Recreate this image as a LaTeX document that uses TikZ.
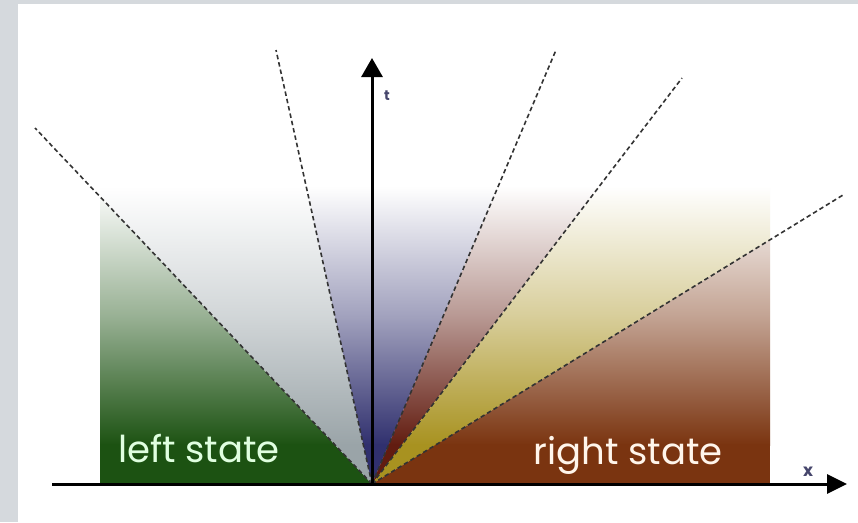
\documentclass[tikz,border=0pt]{standalone}
\usepackage{fontspec}
\setmainfont{Poppins}
\usetikzlibrary{arrows.meta}
\definecolor{framegray}{HTML}{D5D9DD}
\definecolor{cgreen}{HTML}{1C5212}
\definecolor{cgray}{HTML}{9AA4A8}
\definecolor{cblue}{HTML}{30306E}
\definecolor{cred}{HTML}{621C10}
\definecolor{cyellow}{HTML}{A89220}
\definecolor{cbrown}{HTML}{7A3410}
\definecolor{dashcol}{HTML}{333333}
\definecolor{labcol}{HTML}{46466C}
\tikzset{
  fan/.style={draw=dashcol, line width=1.6pt, dash pattern=on 4.5pt off 3pt},
  axisline/.style={draw=black, line width=3pt},
  statetext/.style={font=\fontsize{37}{40}\selectfont, inner sep=0pt, anchor=base},
  axlabel/.style={font=\bfseries\fontsize{17}{18}\selectfont, text=labcol, inner sep=0pt}
}
\newcommand{\wedgefill}[2]{%
  \begin{scope}
    \clip (100,183) rectangle (770,484);
    \clip #1;
    \shade[top color=white, bottom color=#2, middle color=#2!45!white] (100,186) rectangle (770,445);
    \fill[#2] (100,444) rectangle (770,484);
  \end{scope}}
\begin{document}
\begin{tikzpicture}[x=1pt,y=-1pt]
\useasboundingbox (0,0) rectangle (858,522);
\fill[white] (0,0) rectangle (858,522);
\fill[framegray] (0,0) rectangle (858,4);
\fill[framegray] (0,0) rectangle (18,522);

\coordinate (O) at (372,484);
\coordinate (L1) at (35,128);
\coordinate (L2) at (276,50);
\coordinate (R1) at (556,50);
\coordinate (R2) at (682,78);
\coordinate (R3) at (843,195);
\coordinate (tb) at (372,484);
\coordinate (tt) at (372,58);
\coordinate (xl) at (52,484);
\coordinate (xr) at (847,484);

\wedgefill{(O) -- (L1) -- (0,128) -- (0,484) -- cycle}{cgreen}
\wedgefill{(O) -- (L1) -- (35,50) -- (L2) -- cycle}{cgray}
\wedgefill{(O) -- (L2) -- (R1) -- cycle}{cblue}
\wedgefill{(O) -- (R1) -- (R2) -- cycle}{cred}
\wedgefill{(O) -- (R2) -- (R3) -- cycle}{cyellow}
\wedgefill{(O) -- (R3) -- (858,195) -- (858,484) -- cycle}{cbrown}

\draw[fan] (O) -- (L1);
\draw[fan] (O) -- (L2);
\draw[fan] (O) -- (R1);
\draw[fan] (O) -- (R2);
\draw[fan] (O) -- (R3);

\draw[axisline, -{Triangle[length=19pt,width=21pt]}] (tb) -- (tt);
\draw[axisline, -{Triangle[length=20pt,width=19pt]}] (xl) -- (xr);

\node[statetext, text=white!88!green] (ls) at (199,462) {left state};
\node[statetext, text=white!92!orange] (rs) at (628,464) {right state};
\node[axlabel, font=\bfseries\fontsize{14}{15}\selectfont] (tl) at (387,96) {t};
\node[axlabel] (xlab) at (808,472) {x};
\end{tikzpicture}
\end{document}
